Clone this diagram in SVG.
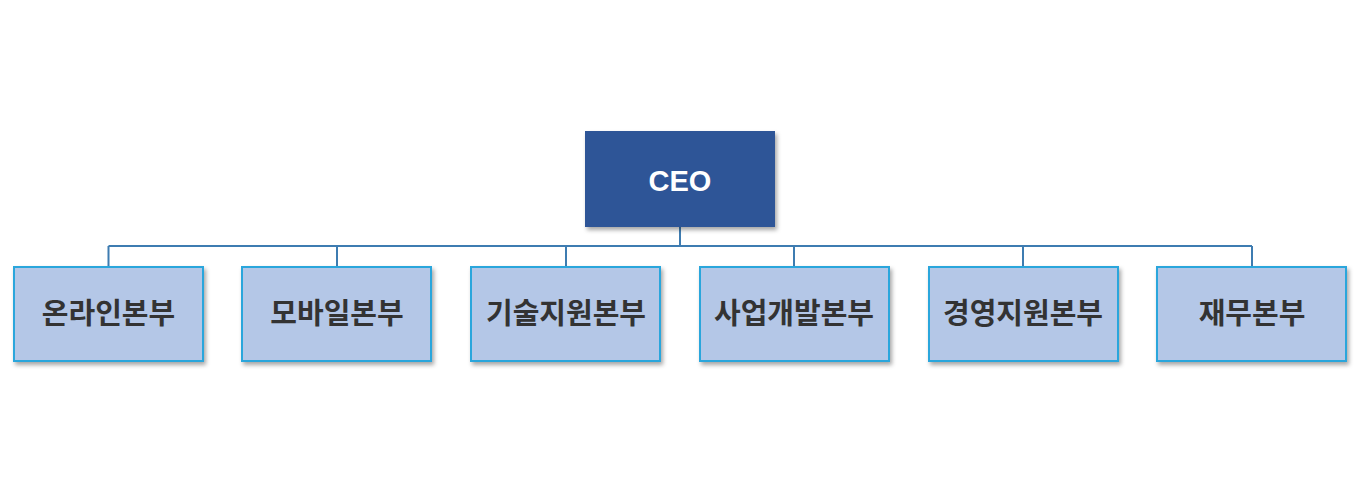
<svg xmlns="http://www.w3.org/2000/svg" width="1357" height="494" viewBox="0 0 1357 494">
<defs>
<filter id="sh" x="-10%" y="-10%" width="130%" height="130%"><feDropShadow dx="2" dy="3" stdDeviation="2" flood-color="#000" flood-opacity="0.35"/></filter>
<style>
.b{fill:#B4C7E7;stroke:#2AA6DC;stroke-width:2;filter:url(#sh)}
.t{font-family:"Noto Sans CJK KR","Liberation Sans",sans-serif;font-size:29px;font-weight:bold;fill:#333;text-anchor:middle}
.c{fill:none;stroke:#3E7CB1;stroke-width:2}
</style>
</defs>
<rect width="1357" height="494" fill="#fff"/>
<g id="connectors">
<path class="c" d="M680 227V246M108.5 246H1252M108.5 246V267M337 246V267M566 246V267M794 246V267M1023 246V267M1252 246V267"/>
</g>
<g id="ceo"><rect x="585" y="131" width="190" height="96" fill="#2F5597" filter="url(#sh)"/><text x="680" y="191" class="t" style="fill:#fff;font-family:'Liberation Sans',sans-serif">CEO</text></g>
<g id="n1"><rect class="b" x="14" y="267" width="189" height="94"/><text class="t" x="108.5" y="324">온라인본부</text></g>
<g id="n2"><rect class="b" x="242" y="267" width="189" height="94"/><text class="t" x="337" y="324">모바일본부</text></g>
<g id="n3"><rect class="b" x="471" y="267" width="189" height="94"/><text class="t" x="566" y="324">기술지원본부</text></g>
<g id="n4"><rect class="b" x="700" y="267" width="189" height="94"/><text class="t" x="794" y="324">사업개발본부</text></g>
<g id="n5"><rect class="b" x="929" y="267" width="189" height="94"/><text class="t" x="1023" y="324">경영지원본부</text></g>
<g id="n6"><rect class="b" x="1157" y="267" width="189" height="94"/><text class="t" x="1252" y="324">재무본부</text></g>
</svg>
